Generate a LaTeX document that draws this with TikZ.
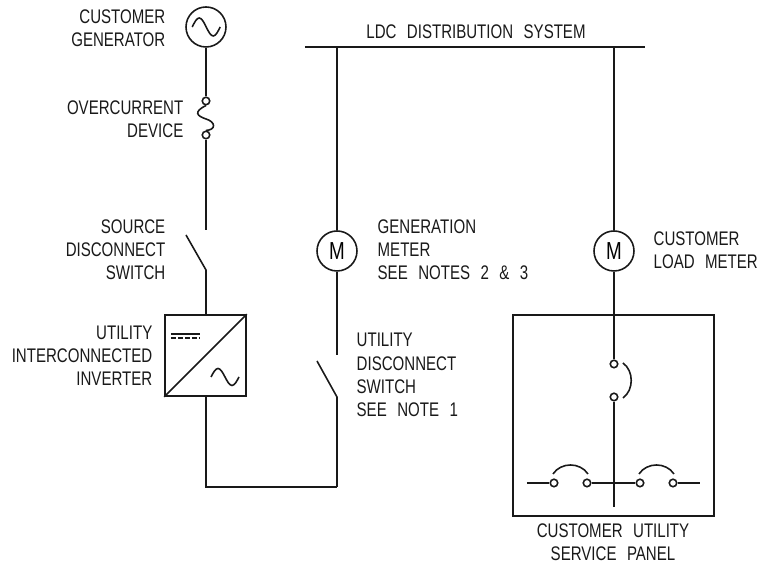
\documentclass[tikz,border=0pt]{standalone}
\usepackage{fontspec}
\setmainfont[FakeStretch=0.765,WordSpace=2.5]{Liberation Sans}
\begin{document}
\begin{tikzpicture}[wire/.style = {line width=0.45pt,draw=black!90},
                    meter/.style = {wire,circle,minimum size=0.4cm,inner sep=0pt,font=\fontsize{7}{8}\selectfont},
                    term/.style = {wire,circle,minimum size=0.075cm,inner sep=0pt,fill=white},
                    label/.style = {font=\fontsize{5.6}{6.6}\selectfont,text=black!90,inner sep=0pt}]
                    \useasboundingbox (0,0) rectangle (7.58,5.64);

                    % bus
                    \coordinate (busl) at (3.05,5.17);
                    \coordinate (busr) at (6.45,5.17);
                    \coordinate (tapg) at (3.37,5.17);
                    \coordinate (tapl) at (6.14,5.17);
                    \draw[wire] (busl) -- (busr);
                    \node [label] (ldc) at (4.76,5.32) {LDC DISTRIBUTION SYSTEM};

                    % generator branch
                    \node [meter] (gen) at (2.06,5.37) {};
                    \node [term] (fusea) at (2.06,4.63) {};
                    \node [term] (fuseb) at (2.06,4.29) {};
                    \coordinate (srca) at (2.06,3.34);
                    \coordinate (srcb) at (1.86,3.29);
                    \coordinate (srcc) at (2.06,2.94);
                    \node [wire,draw,minimum size=0.81cm,inner sep=0pt] (inv) at (2.055,2.085) {};
                    \coordinate (corner) at (2.06,0.77);
                    \coordinate (cornerb) at (3.37,0.77);
                    \coordinate (fusem) at (2.06,4.45);

                    \draw[wire] (gen) -- (fusea);
                    \draw[wire] (fusea.south) .. controls (1.93,4.52) and (1.97,4.48) .. (fusem)
                                              .. controls (2.16,4.42) and (2.16,4.34) .. (fuseb.north);
                    \draw[wire] (fuseb) -- (srca);
                    \draw[wire] (srcb) -- (srcc) -- (inv.north -| srcc);
                    \draw[wire] (inv.south -| corner) -- (corner) -- (cornerb);

                    \draw[wire] (gen.west) ++(0.07,0) sin ++(0.07,0.09) cos ++(0.07,-0.09) sin ++(0.07,-0.09) cos ++(0.07,0.09);
                    \draw[wire] (inv.south west) -- (inv.north east);
                    \draw[wire] (1.71,2.30) -- (2.00,2.30);
                    \draw[wire,dash pattern=on 0.05cm off 0.02cm] (1.71,2.26) -- (2.00,2.26);
                    \draw[wire] (2.11,1.87) sin ++(0.07,0.085) cos ++(0.07,-0.085) sin ++(0.07,-0.085) cos ++(0.07,0.085);

                    % generation meter branch
                    \node [meter] (mgen) at (3.37,3.13) {M};
                    \coordinate (utila) at (3.37,2.09);
                    \coordinate (utilb) at (3.17,2.03);
                    \coordinate (utilc) at (3.37,1.67);
                    \draw[wire] (tapg) -- (mgen);
                    \draw[wire] (mgen) -- (utila);
                    \draw[wire] (utilb) -- (utilc) -- (cornerb);

                    % customer panel
                    \node [meter] (mload) at (6.14,3.13) {M};
                    \node [wire,draw,minimum size=2.01cm,inner sep=0pt] (panel) at (6.135,1.485) {};
                    \node [term] (mainb) at (6.14,2.00) {};
                    \node [term] (maina) at (6.14,1.67) {};
                    \coordinate (stem) at (6.14,0.57);
                    \coordinate (hubc) at (6.14,0.81);
                    \node [term] (brka) at (5.54,0.81) {};
                    \node [term] (brkb) at (5.87,0.81) {};
                    \node [term] (brkc) at (6.40,0.81) {};
                    \node [term] (brkd) at (6.73,0.81) {};
                    \coordinate (feeda) at (5.27,0.81);
                    \coordinate (feedb) at (7.00,0.81);

                    \draw[wire] (tapl) -- (mload);
                    \draw[wire] (mload) -- (mainb);
                    \draw[wire] (maina) -- (stem);
                    \draw[wire] (feeda) -- (brka);
                    \draw[wire] (brkb) -- (brkc);
                    \draw[wire] (brkd) -- (feedb);
                    \draw[wire] (6.23,2.01) .. controls (6.34,1.93) and (6.34,1.74) .. (6.23,1.66);
                    \draw[wire] (5.53,0.90) .. controls (5.61,1.02) and (5.80,1.02) .. (5.88,0.90);
                    \draw[wire] (6.39,0.90) .. controls (6.47,1.02) and (6.66,1.02) .. (6.74,0.90);

                    % labels
                    \node [label,left,align=right] (lgen) at (1.66,5.36) {CUSTOMER\\GENERATOR};
                    \node [label,left,align=right] (lfuse) at (1.84,4.45) {OVERCURRENT\\DEVICE};
                    \node [label,left,align=right] (lsrc) at (1.66,3.14) {SOURCE\\DISCONNECT\\SWITCH};
                    \node [label,left,align=right] (linv) at (1.53,2.08) {UTILITY\\INTERCONNECTED\\INVERTER};
                    \node [label,right,align=left] (lmgen) at (3.77,3.14) {GENERATION\\METER\\SEE NOTES 2 \& 3};
                    \node [label,right,align=left] (lutil) at (3.56,1.89) {UTILITY\\DISCONNECT\\SWITCH\\SEE NOTE 1};
                    \node [label,right,align=left] (lmload) at (6.53,3.14) {CUSTOMER\\LOAD METER};
                    \node [label,align=center] (lpanel) at (6.13,0.22) {CUSTOMER UTILITY\\SERVICE PANEL};
                \end{tikzpicture}
\end{document}
